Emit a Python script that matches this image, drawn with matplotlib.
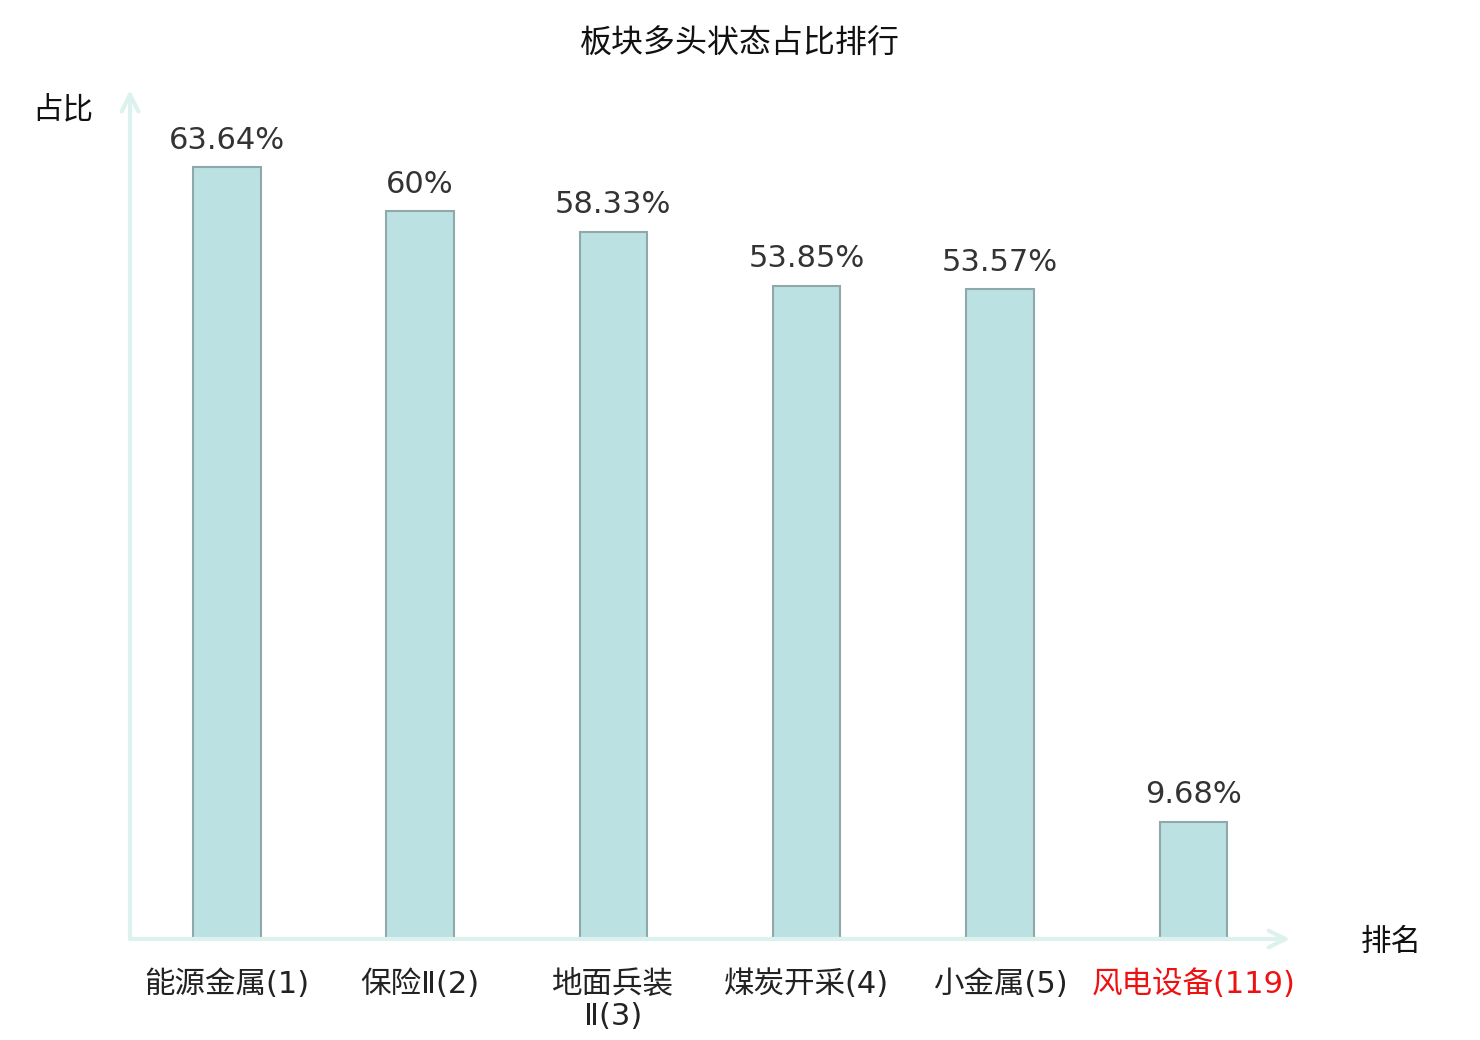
import matplotlib
matplotlib.use('Agg')
import matplotlib.pyplot as plt
import numpy as np

plt.rcParams['font.family'] = ['Noto Sans CJK SC', 'DejaVu Sans']

# data
categories = ['能源金属(1)', '保险Ⅱ(2)', '地面兵装\nⅡ(3)', '煤炭开采(4)', '小金属(5)', '风电设备(119)']
values = [63.64, 60, 58.33, 53.85, 53.57, 9.68]
value_labels = ['63.64%', '60%', '58.33%', '53.85%', '53.57%', '9.68%']
label_colors = ['#222222'] * 5 + ['#ee1111']

fig = plt.figure(figsize=(14.8, 10.4), dpi=100)
ax = fig.add_axes([130/1480, 1 - 939/1040, 1160/1480, 849/1040])

x = np.arange(len(categories))
bars = ax.bar(x, values, width=0.35, color='#bce1e3', edgecolor='#8fa9a9', linewidth=1.5)

ax.set_xlim(-0.5, len(categories) - 0.5)
ax.set_ylim(0, 70)

for b, lab in zip(bars, value_labels):
    ax.annotate(lab, (b.get_x() + b.get_width() / 2, b.get_height()),
                xytext=(0, 9), textcoords='offset points',
                ha='center', va='bottom', fontsize=22, color='#333333',
                family='DejaVu Sans')

for s in ax.spines.values():
    s.set_visible(False)
ax.set_yticks([])
ax.set_xticks(x)
ax.set_xticklabels(categories, fontsize=22, linespacing=1.15,
                   family=['DejaVu Sans', 'Noto Sans CJK SC'])
ax.tick_params(axis='x', length=0, pad=22)
for t, c in zip(ax.get_xticklabels(), label_colors):
    t.set_color(c)
    t.set_verticalalignment('top')

# axis arrows
axis_col = '#ddf2ef'
ax.annotate('', xy=(0, 1), xytext=(0, 0), xycoords='axes fraction',
            arrowprops=dict(arrowstyle='->', color=axis_col, lw=3,
                            mutation_scale=30, shrinkA=0, shrinkB=0),
            annotation_clip=False)
ax.annotate('', xy=(1, 0), xytext=(0, 0), xycoords='axes fraction',
            arrowprops=dict(arrowstyle='->', color=axis_col, lw=3,
                            mutation_scale=30, shrinkA=0, shrinkB=0),
            annotation_clip=False)

fig.text(63/1480, 1 - 110/1040, '占比', ha='center', va='center', fontsize=22, color='#111111')
fig.text(1391/1480, 1 - 942/1040, '排名', ha='center', va='center', fontsize=22, color='#111111')
fig.text(740/1480, 1 - 44/1040, '板块多头状态占比排行', ha='center', va='center', fontsize=23, color='#111111')

fig.savefig('out.png', dpi=100)
